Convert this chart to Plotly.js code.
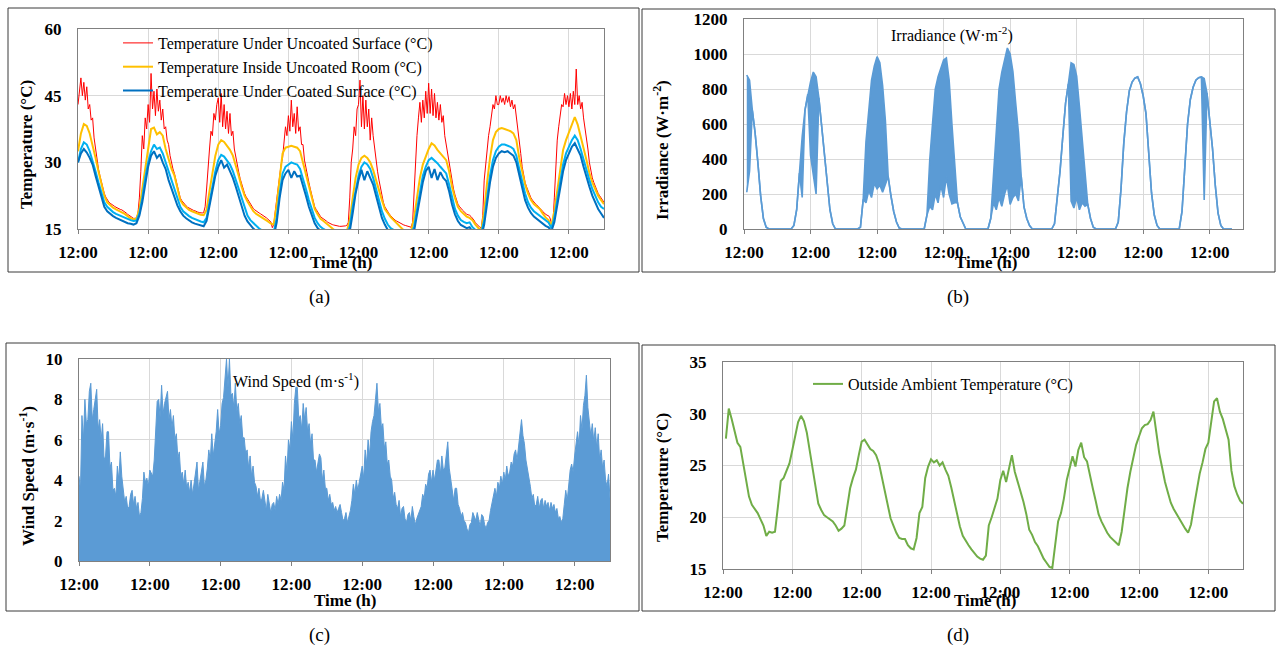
<!DOCTYPE html>
<html>
<head>
<meta charset="utf-8">
<script src="https://cdn.plot.ly/plotly-3.0.1.min.js"></script>
<style>
html,body{margin:0;padding:0;background:#fff;}
#chart{width:1276px;height:655px;}
</style>
</head>
<body>
<div id="chart"></div>
<script>
// ---------- time axes (hours from the first 12:00) ----------
const hours = Array.from({length: 181}, (_, i) => i);
const halfHours = Array.from({length: 361}, (_, i) => i / 2);
const dayTicks = [0, 24, 48, 72, 96, 120, 144, 168];
const dayTickText = ["12:00","12:00","12:00","12:00","12:00","12:00","12:00","12:00"];

// ---------- (a) temperatures (°C) ----------
// half-hourly
const tempUnderUncoated = [
 43,47,49,45,48,44,47,42,43,39.5,40,35.5,33,30.5,28.5,27,25.5,24,23,22.2,21.5,21.1,20.8,20.5,
 20.3,20.1,19.9,19.7,19.6,19.4,19.3,19.1,18.9,18.6,18.3,18.1,17.8,17.6,17.4,17.4,17.5,18.5,22,28,36,33,40,37.5,
 43,39,50,42,46,40.5,46.5,41.5,44,39.5,42,37.5,38,35,34,31.5,29.5,28.5,27.5,26,24.5,23.2,22,21.4,
 20.9,20.5,20.2,19.9,19.7,19.5,19.4,19.2,19.1,18.9,18.8,18.7,18.6,18.6,18.7,20,24,30,33,37,36,41,39.5,43,
 44.5,39,45.5,38,43,37.5,41.5,36.5,41,36,37,33,31,29,27.8,26.3,25,24,23,22.3,21.7,21.1,20.5,20,
 19.6,19.3,19,18.8,18.6,18.4,18.2,18,17.8,17.5,17.2,16.9,16.6,15.3,16,19,22,25,27,29.5,31,35,38,36,
 40.5,37,44,38,41,36.5,42.5,37,38,34,34,30.5,28.5,27,25.5,24,22.5,21.2,20,19.4,18.8,18.3,17.8,17.5,
 17.3,17,16.8,16.5,16.3,16.1,16,15.9,15.8,15.7,15.7,15.6,15.6,15.6,15.6,15.7,15.8,16.5,22,30,33,38,36,42,
 43,48.5,38,45,37.5,44,38,42,35,40,36,33,31,28,26,24,22.2,21,20,19.4,18.9,18.4,18,17.6,
 17.3,17,16.8,16.6,16.4,16.2,16.1,15.9,15.8,15.7,15.6,15.5,15.4,16.5,24,30,36,40,43.5,39,44,40,46,41,
 47.8,41,46.5,40.5,45.5,40,43.5,39.5,43,39,40.5,36,34,31.5,29.5,27.3,25.5,24,22.7,21.5,20.6,20.1,19.6,19.3,
 19,18.6,18.3,18.2,18.1,17.8,17.5,17,16.4,16,15.6,15.4,15.2,18,26,30,34,36,38,41,43,42,45,43,
 43,45,43.5,44.5,43,45,43.5,44.8,42.5,44,42,43,40.5,37.5,35,32,29,27,25.5,24.5,23.5,22.7,22,21.5,
 21,20.7,20.4,20.1,19.8,19.4,19,18.6,18.3,18.1,18,17.5,16.3,16,22,30,35,38,40,43,42.5,45.5,43,45,
 42.5,45.5,42,46,43,51,43,45,42,43.5,40,38,36,33,30,28,26.5,25.5,24.5,23.8,23,22.5,22,21.5,
 21
];
// hourly
const tempInsideUncoatedRoom = [
 32.5,36.5,38.6,38.2,36.5,34,31,28,25,22.5,21,20.3,
 19.8,19.4,19.1,18.8,18.4,17.9,17.4,17.2,17.3,19.5,24,29.5,
 34,37.5,37.8,36.3,36.8,36,33,30.5,28.5,27,24,21.5,
 20.5,19.8,19.3,19,18.7,18.4,18.2,18.1,19.3,23.5,27.5,31.5,
 34,35,34.6,33.8,32.8,31.5,29.5,27,24.5,22.5,21.2,20,
 19,18.4,18,17.6,17.2,16.7,16.2,16,20.5,27,32,33.3,
 33.5,33.7,33.5,33.3,32.5,30,27,25,22,19.5,18.3,17.3,
 16.8,16.2,15.6,15,14.6,14.4,14.3,14.3,14.5,17,22,26.5,
 29.5,31,31.5,31,30,28.3,26,23.5,21.5,19.5,18.5,17.7,
 17,16.3,15.6,15,14.6,14.4,14.5,17.5,22,26.5,29.5,31.5,
 33,34.3,33.8,32.8,32,31.3,30.5,28,24.5,22,20,19,
 18.4,17.8,17.5,17,16,15.2,14.7,19,25.5,31,35,36.8,
 37.5,37.7,37.5,37.3,37,36.5,35,31,27.6,25,23,21.5,
 20.6,20,19.5,18.5,17.6,17,15.8,19,24,28.5,32.8,35,
 36.6,38.5,40.2,38.5,36,33.5,30.5,27.6,25.5,24,22.5,21.5,
 20.6
];
const tempCoatedLight = [
 30,33,34.5,34,32.5,30.5,28,25.5,23,21,20,19.3,
 18.8,18.4,18.1,17.8,17.5,17.2,17,16.8,16.9,18.5,22,26.5,
 30,32.5,34,33,33.3,32,30,27.5,25.5,23.5,21.5,20,
 19,18.4,17.9,17.5,17.2,17,16.7,16.5,17.5,21,24.5,28,
 30.5,31.7,31.3,30.5,29.5,28,26,24,21.5,19.5,18,17,
 16.3,15.6,15.1,14.7,14.5,14.4,14.3,14.3,17.5,23,27.5,29,
 29.5,30,29.7,29.5,28.5,26.5,24,21.5,19.3,17.5,16.3,15.5,
 15,14.6,14.3,14.2,14.1,14,14,14,14.2,15.5,20,24,
 27,29,30,29.5,28.5,26.5,24,21.5,19,17.3,16,15.2,
 14.7,14.4,14.2,14,14,14,14,15.5,19.5,24,27,29,
 30.5,31,30.5,29.8,29,28.3,27.5,25,22,19.5,18,17,
 16.6,16.3,16.5,15.4,14.8,14.4,14.2,17,22.5,27,30.5,32.5,
 33.5,34,34,33.8,33.5,33,31.5,28.5,25.5,23,21,19.8,
 19,18.5,18,17.3,16.8,16.5,15.2,17.5,21.5,25.5,29.5,32,
 33.5,35,36,35,33,30.5,28,26,24,22.5,21,20,
 19.5
];
const tempUnderCoated = [
 30,32,33,32.2,31,29.5,27,24.5,22,20,19,18.4,
 17.9,17.5,17.2,16.8,16.5,16.3,16.2,16,16.3,18,21,25.5,
 29,31.5,32.5,31,31.8,30,28.5,26,24,22,20.3,19,
 18,17.4,16.9,16.5,16.2,16,15.8,15.6,16.8,20,23.5,27,
 29,30.5,28.8,29.5,28,26.5,24.5,22.5,20,18,16.7,15.8,
 15.1,14.5,14,13.7,13.5,13.4,13.3,13.3,16.5,22,26,27.5,
 28.3,26.5,28,26.8,27,25,22.5,20,18,16.3,15.2,14.5,
 14,13.6,13.3,13.2,13.1,13,13,13,13.2,14.5,18.5,23,
 26,28.3,26,28,26.5,25,22.5,20,17.5,16,14.8,14.2,
 13.7,13.4,13.2,13,13,13,13,14.5,18.5,22.5,25.5,28,
 29,26.5,28.5,26,27.8,26.5,25.8,23.5,20.5,18.3,16.8,15.9,
 15.5,15.2,15.4,14.4,13.8,13.4,13.2,16,21,25.5,29,31,
 32,32.5,32.3,32.5,32,31.5,30,27,24,21.5,19.8,18.6,
 17.8,17.3,16.8,16.1,15.7,15.4,14.5,16.5,20.5,24.5,28,30.5,
 32,33.5,34.3,33,31.5,29,26.5,24.5,22.5,21,19.5,18.5,
 17.5
];

// ---------- (b) irradiance, hourly from h=1 (W·m-2): upper / lower envelope ----------
const irradianceHigh = [
 880,850,680,550,380,190,60,10,0,0,0,0,0,0,0,0,0,
 20,110,320,530,680,770,840,897,870,750,594,410,240,110,30,0,
 0,0,0,0,0,0,0,0,
 10,170,500,700,850,930,985,950,820,620,300,190,100,40,5,0,
 0,0,0,0,0,0,0,0,
 80,394,600,800,870,920,966,977,851,600,366,150,70,30,0,
 0,0,0,0,0,0,0,0,
 60,300,600,800,897,960,1034,1000,900,720,550,300,126,60,20,0,
 0,0,0,0,0,0,0,
 30,180,330,530,720,830,950,940,874,700,520,330,140,60,10,0,
 0,0,0,0,0,0,0,
 40,230,491,670,790,840,862,869,830,760,660,430,206,80,20,0,
 0,0,0,0,0,0,0,
 100,350,600,740,810,850,865,869,860,777,620,460,250,91,20,0,
 0,0,0
];
const irradianceLow = [
 210,330,680,550,380,190,60,10,0,0,0,0,0,0,0,0,0,
 20,110,320,180,680,770,420,300,200,750,594,410,240,110,30,0,
 0,0,0,0,0,0,0,0,
 10,170,150,220,180,260,230,250,210,260,300,190,100,40,5,0,
 0,0,0,0,0,0,0,0,
 80,130,110,200,150,250,180,300,200,143,150,150,70,30,0,
 0,0,0,0,0,0,0,0,
 60,150,110,180,130,200,250,140,180,200,160,300,126,60,20,0,
 0,0,0,0,0,0,0,
 30,180,330,530,720,830,160,120,180,110,150,130,140,60,10,0,
 0,0,0,0,0,0,0,
 40,230,491,670,790,840,862,869,830,760,660,430,206,80,20,0,
 0,0,0,0,0,0,0,
 100,350,600,740,810,850,865,869,166,777,620,460,250,91,20,0,
 0,0,0
];

// ---------- (c) wind speed, half-hourly upper envelope (m·s-1) ----------
const windSpeed = [
 4.2,3.5,7.2,6.0,8.0,6.8,7.0,8.4,8.8,7.0,7.5,8.0,8.5,6.5,7.0,6.0,6.8,5.0,5.2,6.4,6.4,4.6,4.9,3.5,
 3.6,3.2,4.7,4.0,5.4,4.2,3.6,2.9,3.2,2.6,2.7,3.3,3.5,2.8,3.2,2.6,2.9,2.2,2.4,3.1,4.4,3.9,4.1,3.7,
 4.5,4.3,4.2,5.0,6.2,7.9,8.0,7.1,8.7,7.3,7.8,8.2,8.4,7.0,7.5,6.6,7.2,6.0,6.3,5.1,5.4,4.2,4.4,3.8,
 4.5,3.6,3.9,3.4,4.0,3.3,3.8,4.4,4.9,3.5,3.9,4.4,4.9,3.7,4.0,4.6,5.5,5.0,6.3,5.2,5.8,6.4,7.5,6.3,
 6.7,7.8,8.1,9.0,10.0,8.6,10.0,8.2,8.3,7.6,8.8,7.4,7.8,6.8,7.2,6.1,6.1,5.3,5.5,4.6,5.2,4.2,4.7,3.9,
 3.7,3.2,3.6,3.0,3.1,3.5,2.9,2.5,3.3,2.7,2.4,2.8,2.9,2.5,3.2,2.8,3.3,3.0,3.9,3.5,5.2,4.4,6.0,5.5,
 6.9,6.0,7.8,8.6,8.6,7.0,7.2,6.5,7.8,7.0,7.6,6.4,6.8,5.8,6.3,5.0,5.0,4.4,4.9,5.3,5.1,4.0,4.5,3.6,
 3.6,3.0,3.3,2.8,2.9,2.5,2.7,2.4,2.6,2.8,2.4,2.0,2.1,2.4,1.9,2.2,2.5,3.0,3.8,3.3,4.0,3.5,3.9,4.3,
 4.7,4.1,5.5,4.8,6.0,5.2,6.4,6.9,7.2,8.0,8.8,7.4,7.8,6.6,6.8,5.6,5.9,4.8,5.0,4.2,4.0,3.1,3.4,2.8,
 2.6,3.0,2.2,2.6,2.7,2.1,1.9,2.3,2.4,2.0,2.7,2.2,1.8,2.1,2.3,2.6,2.7,3.3,3.1,3.8,3.6,4.3,4.5,3.9,
 4.5,4.0,4.4,5.0,5.0,4.3,5.2,4.5,4.6,5.4,5.9,4.6,4.0,3.4,3.0,3.6,3.6,2.8,2.6,2.2,2.4,2.0,1.9,1.6,
 1.4,1.8,1.9,2.4,2.2,2.0,2.4,2.0,1.7,2.3,2.2,1.8,1.6,1.9,2.0,2.5,2.9,3.4,3.6,3.2,3.9,3.6,4.2,3.8,
 4.4,4.0,4.7,4.2,4.4,4.9,4.7,5.3,5.5,5.0,5.8,6.5,7.0,6.2,5.8,5.0,4.6,4.0,3.7,3.1,3.3,2.7,2.8,3.2,
 2.6,3.0,3.1,2.6,3.0,2.7,2.9,2.5,2.9,2.6,2.8,2.4,2.6,2.1,2.2,1.9,2.1,2.8,3.5,3.0,3.9,4.5,4.8,4.4,
 5.2,6.0,6.4,5.7,7.2,6.5,7.7,8.2,9.2,7.6,7.0,6.2,6.8,5.9,6.6,5.6,6.3,5.0,5.5,4.6,5.0,4.0,3.7,4.3,
 3.1
];

// ---------- (d) outside ambient temperature, hourly (°C) ----------
const ambientTemp = [
 null,27.6,30.5,29.5,28.3,27.2,26.8,25.2,23.5,22,21.2,20.8,
 20.4,19.8,19.2,18.2,18.6,18.5,18.6,21,23.5,23.8,24.5,25.2,
 26.5,28,29.2,29.8,29.3,28.2,26.5,24.5,22.8,21.3,20.7,20.2,
 20,19.8,19.6,19.2,18.7,18.9,19.2,21,22.8,23.8,24.6,26,
 27.3,27.5,27,26.6,26.4,26,25.2,23.8,22.4,21,19.9,19.2,
 18.5,18,17.9,17.9,17.3,17,16.9,18,20.4,21,23.8,24.9,
 25.6,25.3,25.5,25,25.3,24.6,24,22.9,21.7,20.2,19.1,18.2,
 17.7,17.3,16.9,16.5,16.2,16,15.9,16.3,19.2,20,20.8,21.8,
 23.6,24.5,23.4,24.8,26,24.4,23.5,22.6,21.5,20.3,18.8,18.3,
 17.6,17.2,16.6,16,15.6,15.2,15.1,17.5,19.6,20.4,21.8,23.6,
 24.8,25.9,24.9,26.5,27.2,25.8,25.4,24,22.8,21.6,20.3,19.6,
 19,18.5,18.1,17.8,17.6,17.3,18.6,20.8,22.8,24.4,25.6,27,
 27.8,28.6,28.9,29,29.4,30.2,28.2,26.2,24.8,23.4,22.4,21.4,
 20.8,20.3,19.8,19.3,18.9,18.5,19.3,21,22.8,24.2,25.3,26.6,
 27.2,29,31.2,31.5,30.2,29.5,28.6,27.5,24.5,23,22.2,21.6,
 21.3
];

// ---------- styling ----------
const W = 1276, H = 655;
const px = v => v / W;
const py = v => 1 - v / H;
const SERIF = "Liberation Serif, Times New Roman, serif";
const tickFont = {family: SERIF, size: 17, color: "#000", weight: "bold"};
const gridColor = "#d9d9d9";
const frameColor = "#808080";

function xAxis(d0, d1, anchor) {
  return {domain: [px(d0), px(d1)], anchor: anchor, range: [0, 180],
    tickvals: dayTicks, ticktext: dayTickText, tickfont: tickFont,
    showgrid: true, gridcolor: gridColor, gridwidth: 1,
    showline: true, mirror: true, linecolor: frameColor, linewidth: 1,
    ticks: "outside", ticklen: 4, tickcolor: frameColor,
    ticklabelstandoff: 4, zeroline: false, fixedrange: true};
}
function yAxis(top, bottom, anchor, range, dtick) {
  return {domain: [py(bottom), py(top)], anchor: anchor, range: range, dtick: dtick,
    tickfont: tickFont, showgrid: true, gridcolor: gridColor, gridwidth: 1,
    showline: true, mirror: true, linecolor: frameColor, linewidth: 1,
    ticks: "", ticklabelstandoff: 12, zeroline: false, fixedrange: true};
}

const blueIrr = "#5b9bd5";
const traces = [
  {x: halfHours, y: tempUnderUncoated, type: "scatter", mode: "lines", name: "Temperature Under Uncoated Surface (°C)",
   line: {color: "#ff0000", width: 1}, xaxis: "x", yaxis: "y", legend: "legend"},
  {x: hours, y: tempInsideUncoatedRoom, type: "scatter", mode: "lines", name: "Temperature Inside Uncoated Room (°C)",
   line: {color: "#ffc000", width: 2}, xaxis: "x", yaxis: "y", legend: "legend"},
  {x: hours, y: tempCoatedLight, type: "scatter", mode: "lines", name: "coated (second sensor)",
   line: {color: "#00b0f0", width: 2}, xaxis: "x", yaxis: "y", showlegend: false},
  {x: hours, y: tempUnderCoated, type: "scatter", mode: "lines", name: "Temperature Under Coated Surface (°C)",
   line: {color: "#0070c0", width: 2}, xaxis: "x", yaxis: "y", legend: "legend"},

  {x: hours.slice(1), y: irradianceLow, type: "scatter", mode: "lines", name: "Irradiance low",
   line: {color: blueIrr, width: 1.6}, xaxis: "x2", yaxis: "y2", showlegend: false},
  {x: hours.slice(1), y: irradianceHigh, type: "scatter", mode: "lines", name: "Irradiance",
   line: {color: blueIrr, width: 1.6}, fill: "tonexty", fillcolor: blueIrr, xaxis: "x2", yaxis: "y2", showlegend: false},

  {x: halfHours, y: windSpeed, type: "scatter", mode: "lines", name: "Wind Speed",
   line: {color: blueIrr, width: 1}, fill: "tozeroy", fillcolor: blueIrr, xaxis: "x3", yaxis: "y3", showlegend: false},

  {x: hours, y: ambientTemp, type: "scatter", mode: "lines", name: "Outside Ambient Temperature (°C)",
   line: {color: "#70ad47", width: 2}, xaxis: "x4", yaxis: "y4", legend: "legend2"}
];

function ann(text, x, y, opts) {
  return Object.assign({text: text, x: px(x), y: py(y), xref: "paper", yref: "paper",
    showarrow: false, xanchor: "center", yanchor: "middle",
    font: {family: SERIF, size: 17, color: "#000"}}, opts || {});
}
const annotations = [
  ann("<b>Time (h)</b>", 341, 262),
  ann("<b>Time (h)</b>", 986, 262),
  ann("<b>Time (h)</b>", 345, 600),
  ann("<b>Time (h)</b>", 985, 600),
  ann("<b>Temperature (°C)</b>", 26, 145, {textangle: -90}),
  ann("<b>Irradiance (W·m<sup>-2</sup>)</b>", 661, 150, {textangle: -90}),
  ann("<b>Wind Speed (m·s<sup>-1</sup>)</b>", 27, 476, {textangle: -90}),
  ann("<b>Temperature (°C)</b>", 662, 478, {textangle: -90}),
  ann("Irradiance (W·m<sup>-2</sup>)", 952, 34, {font: {family: SERIF, size: 16, color: "#000"}}),
  ann("Wind Speed (m·s<sup>-1</sup>)", 296, 380, {font: {family: SERIF, size: 16, color: "#000"}}),
  ann("(a)", 319, 297, {font: {family: SERIF, size: 19, color: "#000"}}),
  ann("(b)", 958, 297, {font: {family: SERIF, size: 19, color: "#000"}}),
  ann("(c)", 319, 635, {font: {family: SERIF, size: 19, color: "#000"}}),
  ann("(d)", 958, 635, {font: {family: SERIF, size: 19, color: "#000"}})
];

function box(x0, y0, x1, y1) {
  return {type: "rect", xref: "paper", yref: "paper", x0: px(x0), x1: px(x1), y0: py(y1), y1: py(y0),
    line: {color: "#3a3a3a", width: 1}, fillcolor: "rgba(0,0,0,0)", layer: "below"};
}

const layout = {
  width: W, height: H, margin: {l: 0, r: 0, t: 0, b: 0},
  paper_bgcolor: "#fff", plot_bgcolor: "#fff",
  font: {family: SERIF, color: "#000"},
  xaxis: xAxis(78, 604, "y"),
  yaxis: yAxis(29, 229, "x", [15, 60], 15),
  xaxis2: xAxis(744, 1243, "y2"),
  yaxis2: yAxis(19, 229, "x2", [0, 1200], 200),
  xaxis3: xAxis(79, 610, "y3"),
  yaxis3: yAxis(359, 561, "x3", [0, 10], 2),
  xaxis4: xAxis(723, 1243, "y4"),
  yaxis4: yAxis(362, 569, "x4", [15, 35], 5),
  legend: {x: px(118), y: py(26), xanchor: "left", yanchor: "top", bgcolor: "rgba(0,0,0,0)",
    font: {family: SERIF, size: 16, color: "#000"}, tracegroupgap: 0, itemwidth: 30,
    traceorder: "normal"},
  legend2: {x: px(808), y: py(367), xanchor: "left", yanchor: "top", bgcolor: "rgba(0,0,0,0)",
    font: {family: SERIF, size: 16, color: "#000"}, itemwidth: 30},
  annotations: annotations,
  shapes: [box(8, 8, 639, 272), box(642, 9, 1275, 272), box(6, 343, 639, 611), box(642, 345, 1275, 611)],
  showlegend: true
};

Plotly.newPlot("chart", traces, layout, {displayModeBar: false, staticPlot: true});
</script>
</body>
</html>
